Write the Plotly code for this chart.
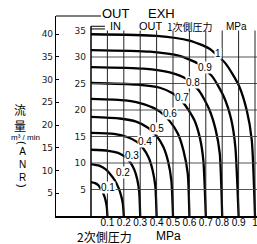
import plotly.graph_objects as go

# supply pressures (MPa) and their curves: secondary pressure (x) vs flow (inner scale, m3/min ANR)
pressures = ["0.1", "0.2", "0.3", "0.4", "0.5", "0.6", "0.7", "0.8", "0.9", "1"]
curve_x = [
    [0, 0.025, 0.045, 0.06, 0.073, 0.084, 0.092, 0.097, 0.1],
    [0, 0.05, 0.09, 0.12, 0.146, 0.168, 0.184, 0.194, 0.2],
    [0, 0.105, 0.165, 0.21, 0.24, 0.264, 0.282, 0.294, 0.3],
    [0, 0.14, 0.22, 0.28, 0.32, 0.352, 0.376, 0.392, 0.4],
    [0, 0.175, 0.275, 0.35, 0.4, 0.44, 0.47, 0.49, 0.5],
    [0, 0.21, 0.33, 0.42, 0.48, 0.53, 0.565, 0.59, 0.6],
    [0, 0.28, 0.42, 0.5, 0.57, 0.63, 0.665, 0.685, 0.7],
    [0, 0.32, 0.48, 0.58, 0.66, 0.72, 0.76, 0.785, 0.8],
    [0, 0.36, 0.54, 0.65, 0.74, 0.81, 0.855, 0.88, 0.9],
    [0, 0.4, 0.6, 0.72, 0.82, 0.9, 0.95, 0.98, 1.0],
]
curve_y = [
    [6.4, 6.2, 5.8, 5.1, 4.4, 3.5, 2.5, 1.5, 0],
    [9.8, 9.5, 8.8, 7.8, 6.7, 5.3, 3.8, 2.4, 0],
    [12.5, 12.3, 11.9, 11.1, 10.1, 8.75, 6.9, 4.5, 0],
    [15.7, 15.5, 14.9, 14.0, 12.7, 11.0, 8.6, 5.7, 0],
    [18.7, 18.4, 17.8, 16.6, 15.1, 13.1, 10.3, 6.7, 0],
    [22.1, 21.8, 21.0, 19.7, 17.9, 15.5, 12.2, 8.0, 0],
    [25.1, 24.8, 24.2, 23.1, 21.1, 18.1, 14.6, 10.5, 0],
    [28.1, 27.8, 27.1, 25.9, 23.6, 20.2, 16.3, 11.8, 0],
    [31.3, 31.0, 30.2, 28.8, 26.3, 22.5, 18.2, 13.1, 0],
    [34.3, 34.0, 33.1, 31.6, 28.8, 24.7, 19.9, 14.4, 0],
]
label_x = [0.104, 0.195, 0.25, 0.33, 0.40, 0.48, 0.555, 0.62, 0.695, 0.774]
label_y = [5.3, 8.3, 11.5, 14.0, 16.6, 19.4, 22.3, 25.1, 28.1, 30.6]

x_ticks = [0.1, 0.2, 0.3, 0.4, 0.5, 0.6, 0.7, 0.8, 0.9, 1.0]
x_ticktext = ["0.1", "0.2", "0.3", "0.4", "0.5", "0.6", "0.7", "0.8", "0.9", "1"]
outer_ticks = [5, 10, 15, 20, 25, 30, 35, 40]   # OUT -> EXH scale
inner_ticks = [5, 10, 15, 20, 25, 30, 35]       # IN -> OUT scale

X_RANGE = [-0.2134, 1.0122]
OUTER_RANGE = [0, 43.96]
INNER_RANGE = [0, 37.74]
INNER_TOP = 35.8
GRID_TOP = 35.0

LATIN = "Liberation Sans, Arial, sans-serif"
NARROW = "Liberation Sans Narrow, Arial Narrow, Liberation Sans, sans-serif"
CJK = "Noto Sans CJK JP, sans-serif"

fig = go.Figure()

# invisible trace to hold the outer axis
fig.add_trace(go.Scatter(x=[0], y=[0], yaxis="y", mode="markers",
                         marker=dict(opacity=0), hoverinfo="skip", showlegend=False))

for cx, cy in zip(curve_x, curve_y):
    fig.add_trace(go.Scatter(x=cx, y=cy, yaxis="y2", mode="lines",
                             line=dict(color="black", width=2.3, shape="spline", smoothing=0.6),
                             hoverinfo="skip", showlegend=False))

shapes = []
# horizontal grid lines of the inner box
for t in inner_ticks[:-1]:
    shapes.append(dict(type="line", xref="x", yref="y2", x0=0, x1=X_RANGE[1], y0=t, y1=t,
                       line=dict(color="#555", width=1.2)))
# vertical grid lines
for t in x_ticks:
    shapes.append(dict(type="line", xref="x", yref="y2", x0=t, x1=t, y0=0, y1=GRID_TOP,
                       line=dict(color="#222", width=1)))
# inner axis line
shapes.append(dict(type="line", xref="x", yref="y2", x0=0, x1=0, y0=0, y1=INNER_TOP,
                   line=dict(color="black", width=1.5)))
# IN leader (double short line)
for yy in [INNER_TOP, INNER_TOP - 0.5]:
    shapes.append(dict(type="line", xref="x", yref="y2", x0=0, x1=0.085, y0=yy, y1=yy,
                       line=dict(color="black", width=1)))
# OUT/EXH leader on top of outer axis
shapes.append(dict(type="line", xref="paper", yref="paper", x0=0, x1=0.224, y0=1, y1=1,
                   line=dict(color="black", width=1.2)))

ann = []
for txt, lx, ly in zip(pressures, label_x, label_y):
    ann.append(dict(x=lx, y=ly, xref="x", yref="y2", text=txt, showarrow=False,
                    xanchor="center", yanchor="middle",
                    font=dict(family=NARROW, size=10, color="black"),
                    bgcolor="white", borderpad=0))


def px(xp, yp, text, size, family=LATIN, angle=0):
    ann.append(dict(x=(xp - 56) / 201, y=(216 - yp) / 200, xref="paper", yref="paper",
                    text=text, showarrow=False, textangle=angle,
                    xanchor="center", yanchor="middle",
                    font=dict(family=family, size=size, color="black")))


px(116, 13, "OUT", 13)
px(161, 13, "EXH", 13)
px(115, 26, "IN", 11)
px(151, 26, "OUT", 11)
px(190, 26, "1次側圧力", 10, CJK)
px(236, 26, "MPa", 10)
px(20, 117, "流<br>量", 12, CJK)
px(25, 137, "m³ / min", 8)
px(22, 143, "(", 11, LATIN, 90)
px(22, 164.5, "A<br>N<br>R", 10)
px(22, 186, ")", 11, LATIN, 90)
px(104, 236, "2次側圧力", 12, CJK)
px(168, 236, "MPa", 12)

fig.update_layout(
    width=257, height=244,
    margin=dict(l=56, r=0, t=16, b=28, autoexpand=False),
    paper_bgcolor="white", plot_bgcolor="white",
    showlegend=False,
    xaxis=dict(range=X_RANGE, tickvals=x_ticks, ticktext=x_ticktext, showgrid=False,
               zeroline=False, showline=True, linecolor="black", linewidth=1.5, ticks="",
               automargin=False, ticklabeloverflow="allow", ticklabelstandoff=-4,
               tickfont=dict(family=NARROW, size=10, color="black")),
    yaxis=dict(range=OUTER_RANGE, tickvals=outer_ticks, showgrid=False, zeroline=False,
               showline=True, linecolor="black", linewidth=1.2, ticks="inside", ticklen=3,
               automargin=False,
               tickcolor="black", tickfont=dict(family="DejaVu Sans, sans-serif", size=9, color="#222")),
    yaxis2=dict(range=INNER_RANGE, tickvals=inner_ticks, overlaying="y", anchor="free",
                position=(90 - 56) / 201, side="left", showgrid=False, zeroline=False,
                showline=False, ticks="", ticklabelstandoff=4, automargin=False,
                tickfont=dict(family="DejaVu Sans, sans-serif", size=9, color="#222")),
    shapes=shapes, annotations=ann,
)

fig.write_html("out.html", config={"displayModeBar": False},
               post_script="document.body.style.margin='0';")
